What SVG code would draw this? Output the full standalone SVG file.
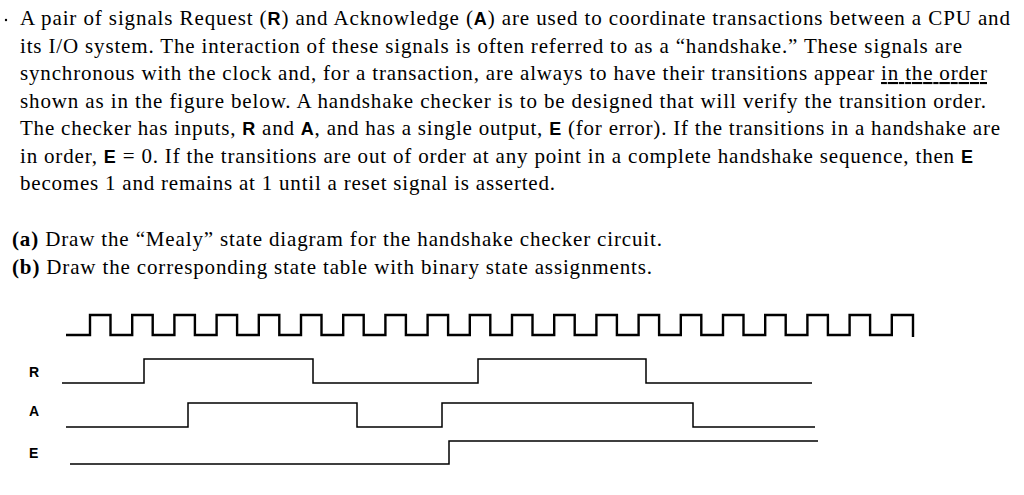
<svg xmlns="http://www.w3.org/2000/svg" width="1024" height="495" viewBox="0 0 1024 495">
<style>
.t{font-family:"Liberation Serif",serif;font-size:21px;fill:#000}
.b{font-family:"Liberation Sans",sans-serif;font-weight:bold;font-size:18px}
.w{fill:none;stroke:#000;stroke-width:1.5}
.c{fill:none;stroke:#000;stroke-width:2.4}
.l{font-family:"Liberation Sans",sans-serif;font-weight:bold;font-size:14px}
</style>
<rect width="1024" height="495" fill="#fff"/>
<g id="text">
<text class="t" x="20" y="25" textLength="990" lengthAdjust="spacing">A pair of signals Request (<tspan class="b">R</tspan>) and Acknowledge (<tspan class="b">A</tspan>) are used to coordinate transactions between a CPU and</text>
<text class="t" x="20" y="53" textLength="942" lengthAdjust="spacing">its I/O system. The interaction of these signals is often referred to as a “handshake.” These signals are</text>
<text class="t" x="20" y="80" textLength="967" lengthAdjust="spacing">synchronous with the clock and, for a transaction, are always to have their transitions appear <tspan text-decoration="underline">in the order</tspan></text>
<text class="t" x="20" y="108" textLength="966" lengthAdjust="spacing">shown as in the figure below. A handshake checker is to be designed that will verify the transition order.</text>
<text class="t" x="20" y="135" textLength="980" lengthAdjust="spacing">The checker has inputs, <tspan class="b">R</tspan> and <tspan class="b">A</tspan>, and has a single output, <tspan class="b">E</tspan> (for error). If the transitions in a handshake are</text>
<text class="t" x="20" y="163" textLength="953" lengthAdjust="spacing">in order, <tspan class="b">E</tspan> = 0. If the transitions are out of order at any point in a complete handshake sequence, then <tspan class="b">E</tspan></text>
<text class="t" x="20" y="190" textLength="535" lengthAdjust="spacing">becomes 1 and remains at 1 until a reset signal is asserted.</text>
<text class="t" x="12" y="246" textLength="650" lengthAdjust="spacing"><tspan font-weight="bold">(a)</tspan> Draw the “Mealy” state diagram for the handshake checker circuit.</text>
<text class="t" x="12" y="274" textLength="640" lengthAdjust="spacing"><tspan font-weight="bold">(b)</tspan> Draw the corresponding state table with binary state assignments.</text>
<circle cx="6" cy="20" r="1.2" fill="#000"/>
</g>
<g id="labels">
<text class="l" x="29" y="377">R</text>
<text class="l" x="29" y="416">A</text>
<text class="l" x="29" y="458">E</text>
</g>
<g id="waves">
<path class="c" d="M66 335 H90 V315 H110.5 V335 H132.2 V315 H152.7 V335 H174.4 V315 H194.9 V335 H216.6 V315 H237.1 V335 H258.8 V315 H279.3 V335 H301 V315 H321.5 V335 H343.2 V315 H363.7 V335 H385.4 V315 H405.9 V335 H427.6 V315 H448.1 V335 H469.8 V315 H490.3 V335 H512 V315 H532.5 V335 H554.2 V315 H574.7 V335 H596.4 V315 H616.9 V335 H638.6 V315 H659.1 V335 H680.8 V315 H701.3 V335 H723 V315 H743.5 V335 H765.2 V315 H785.7 V335 H807.4 V315 H827.9 V335 H849.6 V315 H870.1 V335 H891.8 V315 H913 V337"/>
<path class="w" d="M62 383 H144 V359 H313 V383 H478 V359 H646 V383 H812"/>
<path class="w" d="M66 427 H188 V403 H357 V427 H442 V403 H693 V427 H815"/>
<path class="w" d="M70 464 H449 V441 H818"/>
</g>
</svg>
